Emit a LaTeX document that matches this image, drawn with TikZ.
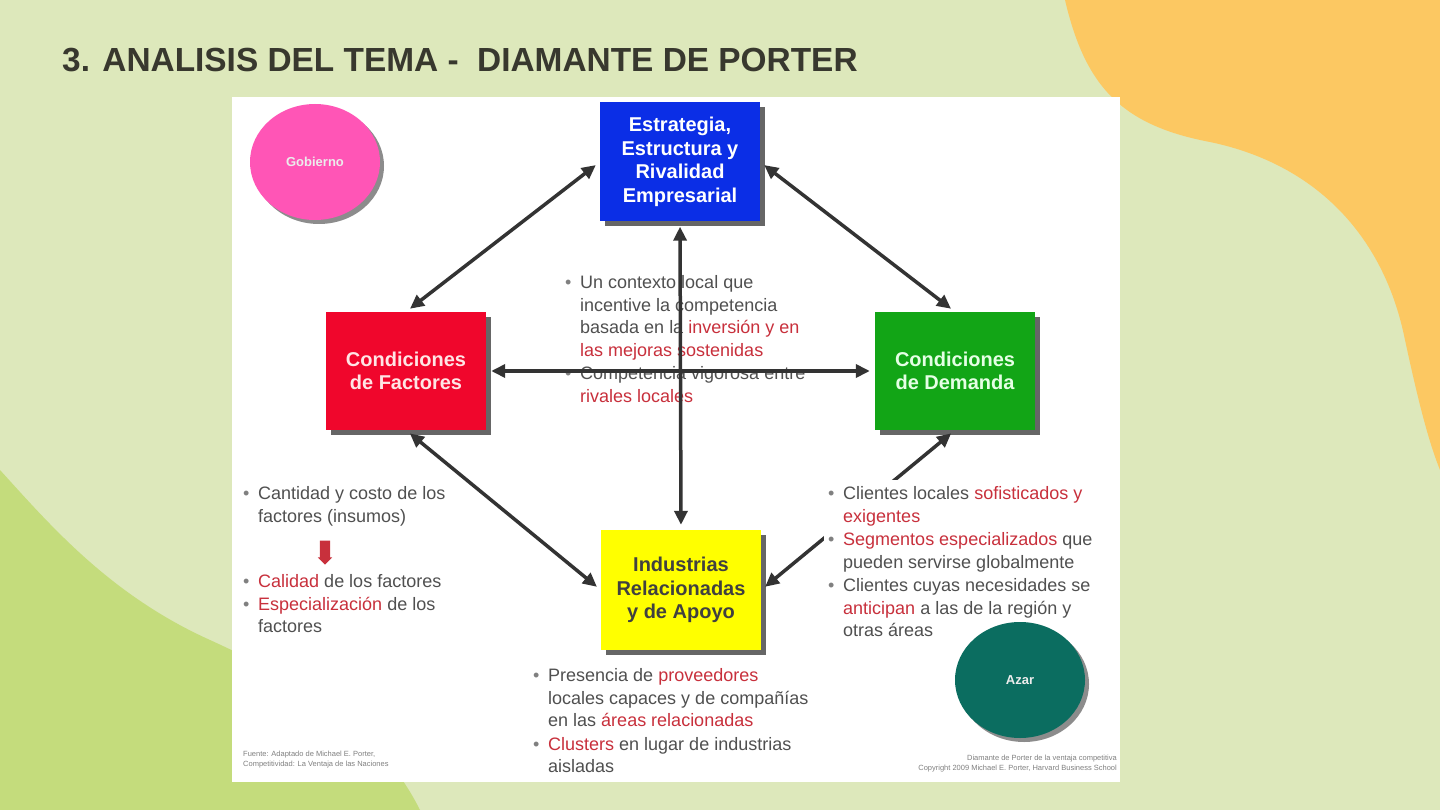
\documentclass[tikz,border=0pt]{standalone}
\usepackage{fontspec}
\setmainfont{Liberation Sans}
\usepackage{xcolor}
\usetikzlibrary{arrows.meta,positioning,shadows,shapes.geometric,shapes.arrows}
\definecolor{bggreen}{HTML}{DDE8BB}
\definecolor{blobgreen}{HTML}{C4DC7C}
\definecolor{bloborange}{HTML}{FCC862}
\definecolor{titlegray}{HTML}{38382E}
\definecolor{estrblue}{HTML}{0B2EE6}
\definecolor{factred}{HTML}{F0062C}
\definecolor{demgreen}{HTML}{12A516}
\definecolor{indyellow}{HTML}{FFFF00}
\definecolor{gobpink}{HTML}{FF55B6}
\definecolor{azarteal}{HTML}{0B6D60}
\definecolor{arrgray}{HTML}{333333}
\definecolor{txtgray}{HTML}{505050}
\definecolor{hired}{HTML}{C8303C}
\newcommand{\hl}[1]{\textcolor{hired}{#1}}
\newcommand{\bul}[1]{\makebox[15pt][l]{\textcolor{gray}{\textbullet}}\begin{tabular}[t]{@{}l@{}}#1\end{tabular}}

\begin{document}
\begin{tikzpicture}[x=1pt,y=-1pt,
  box/.style={draw=none, align=center, inner sep=2pt, minimum width=160pt, minimum height=118pt,
    font=\fontsize{20}{23.5}\selectfont\bfseries,
    drop shadow={shadow xshift=5pt, shadow yshift=-5pt, opacity=.75, fill=black!80}},
  circ/.style={ellipse, minimum width=130pt, minimum height=116pt, text=white!85!gray,
    font=\fontsize{13}{15}\selectfont\bfseries,
    drop shadow={shadow xshift=4pt, shadow yshift=-4pt, opacity=.6, fill=black!75}},
  bullets/.style={anchor=north west, inner sep=0pt, align=left,
    text=txtgray, font=\fontsize{18}{22.5}\selectfont},
  foot/.style={inner sep=0pt, text=gray, font=\fontsize{7.5}{10}\selectfont},
  arr/.style={{Triangle[length=14pt,width=13pt]}-{Triangle[length=14pt,width=13pt]},
    line width=3.5pt, draw=arrgray, shorten <=5pt, shorten >=5pt}]
% background and blobs
\fill[bggreen] (0,0) rectangle (1440,810);
\fill[bloborange] (1065,0) .. controls (1085,85) and (1120,125) .. (1210,142)
  .. controls (1320,165) and (1385,240) .. (1405,340)
  .. controls (1418,400) and (1428,440) .. (1440,470) -- (1440,0) -- cycle;
\fill[blobgreen] (0,470) .. controls (50,525) and (110,595) .. (210,640)
  .. controls (320,690) and (385,740) .. (420,810) -- (0,810) -- cycle;
\fill[white] (232,97) rectangle (1120,782);
\node[anchor=base west, inner sep=0pt, text=titlegray, font=\fontsize{33.4}{40}\selectfont\bfseries]
  (title) at (62,72) {3. ANALISIS DEL TEMA -\ \ DIAMANTE DE PORTER};

% the four forces
\node[box, fill=estrblue, text=white, minimum width=160pt, minimum height=119pt] (estr) at (680,162)
  {Estrategia,\\Estructura y\\Rivalidad\\Empresarial};
\node[box, fill=factred, text=white!90!red] (fact) at (406,371) {Condiciones\\de Factores};
\node[box, fill=demgreen, text=white!90!green] (dem) at (955,371) {Condiciones\\de Demanda};
\node[box, fill=indyellow, text=black!75, minimum height=120pt] (ind) at (681,590)
  {Industrias\\Relacionadas\\y de Apoyo};
\node[circ, fill=gobpink] (gob) at (315,162) {Gobierno};

% center text, under the arrows
\node[bullets] (ctr) at (565,273) {%
  \bul{Un contexto local que\\incentive la competencia\\basada en la \hl{inversión y en}\\\hl{las mejoras sostenidas}}\\
  \bul{Competencia vigorosa entre\\\hl{rivales locales}}};

\draw[arr] (estr.west) -- (fact.north);
\draw[arr] (estr.east) -- (dem.north);
\draw[arr] (estr.south) -- (ind.north);
\draw[arr] (fact.east) -- (dem.west);
\draw[arr] (fact.south) -- (ind.west);
\draw[arr] (dem.south) -- (ind.east);

% side texts
\node[bullets] (facta) at (243,484) {%
  \bul{Cantidad y costo de los\\factores (insumos)}};
\node[single arrow, fill=hired, draw=none, rotate=-90, minimum height=24pt, minimum width=14pt,
  single arrow head extend=2pt, inner xsep=0pt, inner ysep=5pt] (down) at (325,550) {};
\node[bullets] (factb) at (243,572) {%
  \bul{\hl{Calidad} de los factores}\\
  \bul{\hl{Especialización} de los\\factores}};
\node[bullets, fill=white, inner sep=4pt] (demt) at (824,480) {%
  \bul{Clientes locales \hl{sofisticados y}\\\hl{exigentes}}\\
  \bul{\hl{Segmentos especializados} que\\pueden servirse globalmente}\\
  \bul{Clientes cuyas necesidades se\\\hl{anticipan} a las de la región y\\otras áreas}};
\node[circ, fill=azarteal] (azar) at (1020,680) {Azar};
\node[bullets] (indt) at (533,666) {%
  \bul{Presencia de \hl{proveedores}\\locales capaces y de compañías\\en las \hl{áreas relacionadas}}\\
  \bul{\hl{Clusters} en lugar de industrias\\aisladas}};

% sources
\node[foot, anchor=north west, align=left] (srcl) at (243,751)
  {Fuente: Adaptado de Michael E. Porter,\\Competitividad: La Ventaja de las Naciones};
\node[foot, anchor=north east, align=right] (srcr) at (1117,755)
  {Diamante de Porter de la ventaja competitiva\\Copyright 2009 Michael E. Porter, Harvard Business School};
\end{tikzpicture}
\end{document}
